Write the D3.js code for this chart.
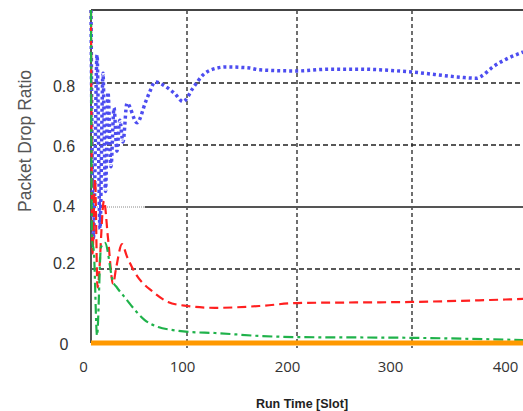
<!DOCTYPE html>
<html>
<head>
<meta charset="utf-8">
<script src="https://cdn.jsdelivr.net/npm/d3@7"></script>
<style>
  body { margin: 0; background: #fff; }
</style>
</head>
<body>
<div id="chart"></div>
<script>
// tick values / labels
const slotTicks = [0, 100, 200, 300, 400];
const ratioTicks = [0, 0.2, 0.4, 0.6, 0.8];
const ratioLabels = ['0', '0.2', '0.4', '0.6', '0.8'];
const gridSlots = [100, 200, 300];
const gridRatios = [0.2, 0.6, 0.8];

// series (slot, ratio)
const blueSlot  = [0, 2.6, 6.3, 9.4, 12.5, 15.1, 17.7, 20.8, 24, 27, 30, 33.3, 37.5, 48, 57, 61, 66.7, 77, 87.5, 95.8, 105.5, 114.5, 123.6, 136, 157, 166, 200, 228.7, 252, 300, 343.6, 359, 362.7, 373.6, 401];
const blueRatio = [1.0, 0.3, 0.877, 0.33, 0.827, 0.45, 0.77, 0.53, 0.72, 0.58, 0.68, 0.61, 0.735, 0.672, 0.74, 0.77, 0.803, 0.79, 0.765, 0.74, 0.784, 0.822, 0.838, 0.844, 0.841, 0.836, 0.833, 0.838, 0.838, 0.83, 0.816, 0.813, 0.818, 0.844, 0.885];

const redSlot  = [0, 1.6, 4.2, 6.8, 13.5, 17.7, 23, 26, 32.3, 37.5, 45.8, 64.6, 80.2, 100, 125.5, 166, 200, 300, 401];
const redRatio = [1.0, 0.25, 0.49, 0.15, 0.42, 0.3, 0.16, 0.2, 0.28, 0.24, 0.19, 0.138, 0.111, 0.1, 0.095, 0.1, 0.108, 0.111, 0.119];

const greenSlot  = [0, 1, 3.1, 6.3, 10.4, 14.6, 23, 27, 37.5, 45.8, 56, 70, 85.4, 101, 125.5, 166, 200, 300, 401];
const greenRatio = [1.0, 0.3, 0.25, 0.02, 0.27, 0.284, 0.165, 0.15, 0.116, 0.089, 0.062, 0.043, 0.035, 0.03, 0.027, 0.019, 0.016, 0.014, 0.008];

const orangeSlot  = [0, 401];
const orangeRatio = [0, 0];

const width = 523, height = 411;

const svg = d3.select('#chart')
    .append('svg')
    .attr('width', width)
    .attr('height', height)
    .style('font-family', '"Liberation Sans", Arial, sans-serif');

// scales (the source figure is not evenly spaced)
const x = d3.scaleLinear().domain(slotTicks).range([91, 187, 297, 412, 522]);
const xLabel = d3.scaleLinear().domain(slotTicks).range([83, 182, 287, 390, 505]);
const y = d3.scaleLinear().domain([0, 0.2, 0.8, 1]).range([343, 269, 83, 10]);
const yLabel = d3.scaleLinear().domain(ratioTicks).range([344, 263, 206, 146, 86]);

// grid
svg.selectAll('.vgrid')
    .data(gridSlots)
    .enter()
    .append('line')
    .attr('x1', d => x(d)).attr('x2', d => x(d))
    .attr('y1', y(1)).attr('y2', 348)
    .attr('stroke', '#222')
    .attr('stroke-width', 1.3)
    .attr('stroke-dasharray', '4,3');

svg.selectAll('.hgrid')
    .data(gridRatios)
    .enter()
    .append('line')
    .attr('x1', x(0)).attr('x2', width)
    .attr('y1', d => y(d)).attr('y2', d => y(d))
    .attr('stroke', '#222')
    .attr('stroke-width', 1.3)
    .attr('stroke-dasharray', '5,3');

// 0.4 line: dotted near the axis, solid after
svg.append('line')
    .attr('x1', x(0)).attr('x2', x(56))
    .attr('y1', y(0.4)).attr('y2', y(0.4))
    .attr('stroke', '#888')
    .attr('stroke-width', 1)
    .attr('stroke-dasharray', '1,1');
svg.append('line')
    .attr('x1', x(56)).attr('x2', width)
    .attr('y1', y(0.4)).attr('y2', y(0.4))
    .attr('stroke', '#555')
    .attr('stroke-width', 2);

// frame
svg.append('line')
    .attr('x1', x(0)).attr('x2', width)
    .attr('y1', y(1)).attr('y2', y(1))
    .attr('stroke', '#444').attr('stroke-width', 2);
svg.append('line')
    .attr('x1', x(0)).attr('x2', x(0))
    .attr('y1', y(1)).attr('y2', y(0))
    .attr('stroke', '#555').attr('stroke-width', 2);

// clip to plot
svg.append('clipPath').attr('id', 'plot')
    .append('rect')
    .attr('x', x(0) - 3).attr('y', y(1) - 2)
    .attr('width', width - x(0) + 3).attr('height', y(0) - y(1) + 6);

const line = d3.line()
    .x(d => x(d[0]))
    .y(d => y(d[1]))
    .curve(d3.curveMonotoneX);

function drawSeries(xs, ys, color, w, dash) {
    svg.append('path')
        .datum(xs.map((s, i) => [s, ys[i]]))
        .attr('clip-path', 'url(#plot)')
        .attr('fill', 'none')
        .attr('stroke', color)
        .attr('stroke-width', w)
        .attr('stroke-dasharray', dash)
        .attr('d', line);
}

drawSeries(blueSlot, blueRatio, '#4d4df0', 3.5, '3,3');
drawSeries(redSlot, redRatio, '#ff2020', 2.2, '9,5');
drawSeries(greenSlot, greenRatio, '#1fb24a', 2.2, '10,4,3,4');
drawSeries(orangeSlot, orangeRatio, '#ff9900', 5, null);

// x tick labels
const xAxis = svg.append('g')
    .attr('transform', 'translate(0,358)')
    .call(d3.axisBottom(xLabel).tickValues(slotTicks).tickSize(0).tickFormat(d3.format('d')));
xAxis.select('.domain').remove();
xAxis.selectAll('text')
    .attr('fill', '#333')
    .style('font-size', '15px')
    .style('font-family', '"Open Sans", sans-serif');

// y tick labels
svg.selectAll('.ylab')
    .data(ratioTicks)
    .enter()
    .append('text')
    .attr('x', 64)
    .attr('y', d => yLabel(d))
    .attr('dy', '0.36em')
    .attr('text-anchor', 'middle')
    .attr('fill', '#333')
    .style('font-size', '16px')
    .text((d, i) => ratioLabels[i]);

// axis titles
svg.append('text')
    .attr('transform', 'translate(31,141) rotate(-90)')
    .attr('text-anchor', 'middle')
    .attr('fill', '#555')
    .style('font-size', '17.5px')
    .text('Packet Drop Ratio');

svg.append('text')
    .attr('x', 302)
    .attr('y', 408)
    .attr('text-anchor', 'middle')
    .attr('fill', '#222')
    .style('font-size', '12.5px')
    .style('font-weight', 'bold')
    .text('Run Time [Slot]');
</script>
</body>
</html>
